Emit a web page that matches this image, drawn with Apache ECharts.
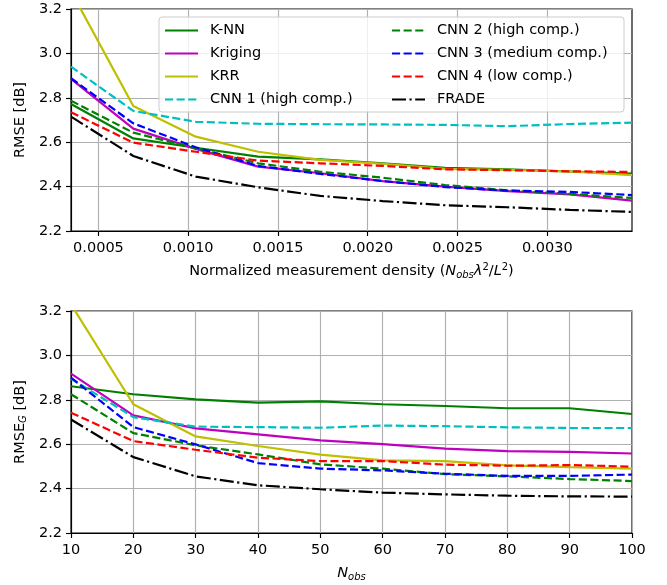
<!DOCTYPE html>
<html><head><meta charset="utf-8">
<script src="https://cdn.jsdelivr.net/npm/echarts@6/dist/echarts.min.js"></script>
<style>html,body{margin:0;padding:0;background:#fff}#c{width:667px;height:585px}</style>
</head><body><div id="c"></div>
<script>
// ---- data ----
const density = [0.000347, 0.000694, 0.001042, 0.001389, 0.001736, 0.002083, 0.002431, 0.002778, 0.003125, 0.003472];
const nObs = [10, 20, 30, 40, 50, 60, 70, 80, 90, 100];
const densityTicks = [0.0005, 0.0010, 0.0015, 0.0020, 0.0025, 0.0030];
const seriesNames = ['K-NN', 'Kriging', 'KRR', 'CNN 1 (high comp.)', 'CNN 2 (high comp.)', 'CNN 3 (medium comp.)', 'CNN 4 (low comp.)', 'FRADE'];

// top: RMSE vs normalized density
const rmseKNN    = [2.772, 2.617, 2.575, 2.535, 2.523, 2.505, 2.485, 2.478, 2.468, 2.458];
const rmseKrig   = [2.885, 2.661, 2.570, 2.490, 2.460, 2.425, 2.400, 2.380, 2.365, 2.337];
const rmseKRR    = [3.280, 2.763, 2.625, 2.557, 2.520, 2.503, 2.480, 2.475, 2.468, 2.452];
const rmseCNN1   = [2.940, 2.741, 2.692, 2.683, 2.681, 2.680, 2.678, 2.672, 2.682, 2.688];
const rmseCNN2   = [2.787, 2.643, 2.572, 2.505, 2.467, 2.440, 2.407, 2.383, 2.367, 2.349];
const rmseCNN3   = [2.888, 2.685, 2.577, 2.493, 2.457, 2.425, 2.398, 2.382, 2.376, 2.362];
const rmseCNN4   = [2.735, 2.598, 2.557, 2.517, 2.505, 2.493, 2.478, 2.474, 2.469, 2.466];
const rmseFRADE  = [2.715, 2.538, 2.445, 2.397, 2.358, 2.335, 2.316, 2.307, 2.295, 2.286];

// bottom: RMSE_G vs N_obs
const rmsegKNN   = [2.861, 2.825, 2.802, 2.787, 2.793, 2.780, 2.772, 2.762, 2.762, 2.736];
const rmsegKrig  = [2.918, 2.730, 2.671, 2.644, 2.617, 2.600, 2.580, 2.569, 2.565, 2.558];
const rmsegKRR   = [3.230, 2.780, 2.635, 2.592, 2.553, 2.527, 2.524, 2.505, 2.497, 2.490];
const rmsegCNN1  = [2.895, 2.722, 2.679, 2.677, 2.674, 2.684, 2.681, 2.676, 2.673, 2.673];
const rmsegCNN2  = [2.825, 2.650, 2.595, 2.554, 2.509, 2.490, 2.465, 2.455, 2.443, 2.434];
const rmsegCNN3  = [2.900, 2.677, 2.599, 2.515, 2.490, 2.482, 2.467, 2.457, 2.457, 2.463];
const rmsegCNN4  = [2.742, 2.614, 2.575, 2.539, 2.524, 2.524, 2.508, 2.503, 2.506, 2.499];
const rmsegFRADE = [2.711, 2.542, 2.455, 2.415, 2.397, 2.382, 2.374, 2.368, 2.365, 2.364];

// ---- styling ----
const FONT = 'DejaVu Sans';
const FS = 14.5;
const LW = 2.2;
const AXW = 1.15;
const colors = ['#008000', '#bf00bf', '#bfbf00', '#00bfbf', '#008000', '#0000ff', '#ff0000', '#000000'];
const dashT = [8.1, 3.5];
const dashDot = [14, 3.5, 2.2, 3.5];
const types = ['solid', 'solid', 'solid', dashT, dashT, dashT, dashT, dashDot];
const topVals = [rmseKNN, rmseKrig, rmseKRR, rmseCNN1, rmseCNN2, rmseCNN3, rmseCNN4, rmseFRADE];
const botVals = [rmsegKNN, rmsegKrig, rmsegKRR, rmsegCNN1, rmsegCNN2, rmsegCNN3, rmsegCNN4, rmsegFRADE];

const rich = {
  i:   { fontFamily: FONT, fontSize: FS, fontStyle: 'italic', color: '#000', lineHeight: 18 },
  n:   { fontFamily: FONT, fontSize: FS, color: '#000', lineHeight: 18 },
  sub: { fontFamily: FONT, fontSize: 10, fontStyle: 'italic', color: '#000', verticalAlign: 'bottom', lineHeight: 10 },
  sup: { fontFamily: FONT, fontSize: 10, color: '#000', verticalAlign: 'top', lineHeight: 10 }
};

function yAxis(gridIndex, name) {
  return {
    type: 'value', gridIndex, min: 2.2, max: 3.2, interval: 0.2,
    name, nameLocation: 'middle', nameGap: 42,
    nameTextStyle: { fontFamily: FONT, fontSize: FS, color: '#000', rich },
    axisLine: { show: true, lineStyle: { color: '#000', width: AXW } },
    axisTick: { show: true, length: 5, lineStyle: { color: '#000', width: AXW } },
    axisLabel: { fontFamily: FONT, fontSize: FS, color: '#000', margin: 9, formatter: v => v.toFixed(1) },
    splitLine: { show: true, lineStyle: { color: '#b0b0b0', width: AXW } }
  };
}

const series = [];
seriesNames.forEach((nm, k) => {
  series.push({
    name: nm, type: 'line', xAxisIndex: 0, yAxisIndex: 0, symbol: 'none', clip: true,
    lineStyle: { color: colors[k], width: LW, type: types[k] }, itemStyle: { color: colors[k] },
    data: density.map((x, i) => [x, topVals[k][i]]), z: 2 + k * 0.01
  });
  series.push({
    name: nm, type: 'line', xAxisIndex: 1, yAxisIndex: 1, symbol: 'none', clip: true,
    lineStyle: { color: colors[k], width: LW, type: types[k] }, itemStyle: { color: colors[k] },
    data: nObs.map((x, i) => [x, botVals[k][i]]), z: 2 + k * 0.01
  });
});

const legendCommon = {
  orient: 'vertical', top: 23, padding: 0, itemGap: 8, itemWidth: 33, itemHeight: 14,
  itemStyle: { opacity: 0 },
  textStyle: { fontFamily: FONT, fontSize: FS, color: '#000', padding: [0, 0, 0, 7] },
  inactiveColor: '#ccc', z: 5
};

const chart = echarts.init(document.getElementById('c'), null, { renderer: 'canvas' });
chart.setOption({
  animation: false,
  backgroundColor: '#fff',
  grid: [
    { left: 71, top: 9, width: 561, height: 222, show: true, borderColor: '#000', borderWidth: AXW, backgroundColor: 'transparent' },
    { left: 71, top: 311, width: 561, height: 222, show: true, borderColor: '#000', borderWidth: AXW, backgroundColor: 'transparent' }
  ],
  xAxis: [
    {
      type: 'value', gridIndex: 0, min: density[0], max: density[density.length - 1],
      name: 'Normalized measurement density ({i|N}{sub|obs}{i|λ}{sup|2}{n|/}{i|L}{sup|2}{n|)}',
      nameLocation: 'middle', nameGap: 31,
      nameTextStyle: { fontFamily: FONT, fontSize: FS, color: '#000', rich },
      axisLine: { show: true, onZero: false, lineStyle: { color: '#000', width: AXW } },
      axisTick: { show: true, length: 5, customValues: densityTicks, lineStyle: { color: '#000', width: AXW } },
      axisLabel: { fontFamily: FONT, fontSize: FS, color: '#000', margin: 10, customValues: densityTicks, formatter: v => v.toFixed(4) },
      splitLine: { show: true, lineStyle: { color: '#b0b0b0', width: AXW } }
    },
    {
      type: 'value', gridIndex: 1, min: 10, max: 100, interval: 10,
      name: '{i|N}{sub|obs}', nameLocation: 'middle', nameGap: 31,
      nameTextStyle: { fontFamily: FONT, fontSize: FS, color: '#000', rich },
      axisLine: { show: true, onZero: false, lineStyle: { color: '#000', width: AXW } },
      axisTick: { show: true, length: 5, lineStyle: { color: '#000', width: AXW } },
      axisLabel: { fontFamily: FONT, fontSize: FS, color: '#000', margin: 10 },
      splitLine: { show: true, lineStyle: { color: '#b0b0b0', width: AXW } }
    }
  ],
  yAxis: [ yAxis(0, 'RMSE [dB]'), yAxis(1, 'RMSE{sub|G} [dB]') ],
  legend: [
    Object.assign({}, legendCommon, { left: 164, data: seriesNames.slice(0, 4) }),
    Object.assign({}, legendCommon, { left: 391, data: seriesNames.slice(4) })
  ],
  graphic: [{
    type: 'rect', z: 4, silent: true,
    shape: { x: 159, y: 17, width: 465, height: 95, r: 3 },
    style: { fill: 'rgba(255,255,255,0.8)', stroke: '#cccccc', lineWidth: 1 }
  }],
  series
});
</script></body></html>
